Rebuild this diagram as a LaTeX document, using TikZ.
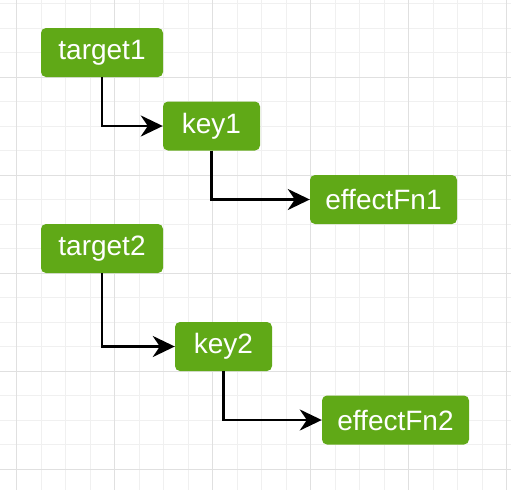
\documentclass[tikz,border=0pt]{standalone}
\usepackage{fontspec}
\setmainfont{Liberation Sans}
\usetikzlibrary{arrows.meta}
\definecolor{boxgreen}{HTML}{60A917}
\definecolor{minorgrid}{HTML}{F0F0F0}
\definecolor{majorgrid}{HTML}{E0E0E0}
\tikzset{
  gbox/.style={fill=boxgreen, draw=none, rounded corners=5pt, text=white,
    font=\fontsize{28}{32}\selectfont, inner sep=0pt, minimum height=49pt},
  conn/.style={line width=2.6pt, -{Stealth[length=22pt, width=21pt, inset=7pt]}}
}
\begin{document}
\begin{tikzpicture}[x=1pt,y=-1pt]
\useasboundingbox (0,0) rectangle (511,490);
\fill[white] (0,0) rectangle (511,490);
% grid
\foreach \i in {0,...,20} {
  \draw[minorgrid, line width=0.8pt] ({16.7+24.5*\i},0) -- ({16.7+24.5*\i},490);
}
\foreach \i in {0,...,19} {
  \draw[minorgrid, line width=0.8pt] (0,{3.8+24.5*\i}) -- (511,{3.8+24.5*\i});
}
\foreach \i in {0,...,5} {
  \draw[majorgrid, line width=0.8pt] ({16.7+98*\i},0) -- ({16.7+98*\i},490);
}
\foreach \i in {0,...,4} {
  \draw[majorgrid, line width=0.8pt] (0,{77.3+98*\i}) -- (511,{77.3+98*\i});
}
% nodes
\node[gbox, minimum width=122pt] (t1) at (102,52.5) {target1};
\node[gbox, minimum width=97pt] (k1) at (211.5,126) {key1};
\node[gbox, minimum width=147pt] (e1) at (383.5,199.5) {effectFn1};
\node[gbox, minimum width=122pt] (t2) at (102,248.5) {target2};
\node[gbox, minimum width=97pt] (k2) at (223.5,346.5) {key2};
\node[gbox, minimum width=147pt] (e2) at (395.5,420) {effectFn2};
% connectors
\draw[conn] (t1.south) |- (k1.west);
\draw[conn] (k1.south) |- (e1.west);
\draw[conn] (t2.south) |- (k2.west);
\draw[conn] (k2.south) |- (e2.west);
\end{tikzpicture}
\end{document}
